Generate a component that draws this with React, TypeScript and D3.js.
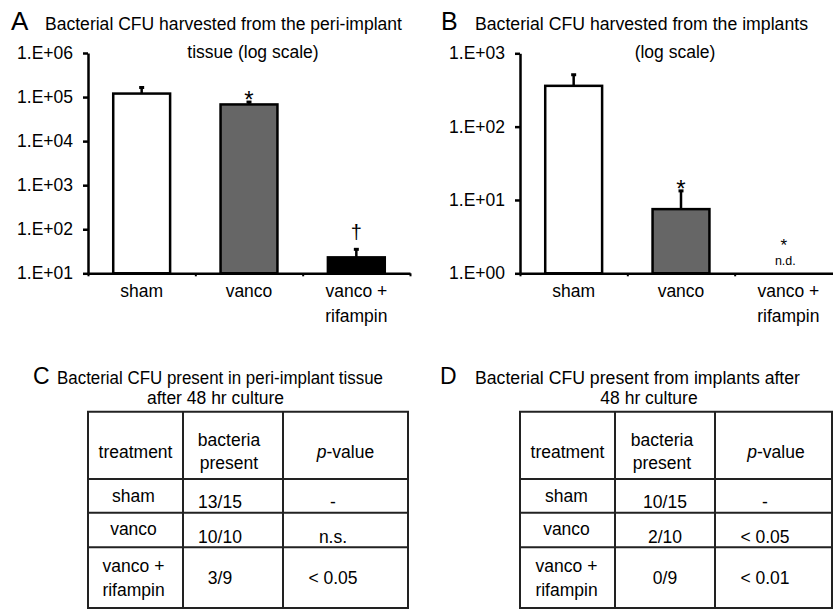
import React, { useEffect, useRef } from "react";
import * as d3 from "d3";

const FONT = "'Liberation Sans', Arial, Helvetica, sans-serif";

const categories = ["sham", "vanco", "vanco + rifampin"];
const categoryLines = [["sham"], ["vanco"], ["vanco +", "rifampin"]];
const barColors = ["#ffffff", "#666666", "#000000"];

// A: CFU from peri-implant tissue
const tissueMeans = [120000, 68000, 23];
const tissueSem = [45000, 9000, 12];
const tissueMarks = ["", "*", "†"];
const tissueTicks = [1e1, 1e2, 1e3, 1e4, 1e5, 1e6];

// B: CFU from implants (null = not detected)
const implantMeans: (number | null)[] = [360, 7.5, null];
const implantSem: (number | null)[] = [150, 5.8, null];
const implantMarks = ["", "*", "*"];
const implantTicks = [1e0, 1e1, 1e2, 1e3];

// C / D tables
const tableHeader = ["treatment", "bacteria\npresent", "p-value"];
const tissueRows = [
  ["sham", "13/15", "-"],
  ["vanco", "10/10", "n.s."],
  ["vanco +\nrifampin", "3/9", "< 0.05"],
];
const implantRows = [
  ["sham", "10/15", "-"],
  ["vanco", "2/10", "< 0.05"],
  ["vanco +\nrifampin", "0/9", "< 0.01"],
];

const fmtTick = (d: number) =>
  "1.E+" + String(Math.round(Math.log10(d))).padStart(2, "0");

function drawChart(svg: any, o: any) {
  const x = d3
    .scaleBand()
    .domain(categories)
    .range([o.left, o.right])
    .paddingInner(0.47)
    .paddingOuter(0.235);
  const y = d3
    .scaleLog()
    .domain([o.ticks[0], o.ticks[o.ticks.length - 1]])
    .range([o.bottom, o.top]);

  const g = svg.append("g");
  const data = categories.map((c, i) => ({
    c,
    i,
    mean: o.means[i],
    sem: o.sem[i],
    mark: o.marks[i],
  }));
  const present = data.filter((d) => d.mean != null);
  const cxOf = (c: string) => x(c)! + x.bandwidth() / 2;

  // error bars (behind bars)
  g.selectAll(".err")
    .data(present)
    .join("line")
    .attr("x1", (d) => cxOf(d.c))
    .attr("x2", (d) => cxOf(d.c))
    .attr("y1", (d) => y(d.mean))
    .attr("y2", (d) => y(d.mean + d.sem))
    .attr("stroke", "#000")
    .attr("stroke-width", 2.5);
  g.selectAll(".cap")
    .data(present)
    .join("line")
    .attr("x1", (d) => cxOf(d.c) - 2.5)
    .attr("x2", (d) => cxOf(d.c) + 2.5)
    .attr("y1", (d) => y(d.mean + d.sem))
    .attr("y2", (d) => y(d.mean + d.sem))
    .attr("stroke", "#000")
    .attr("stroke-width", 3);

  g.selectAll("rect")
    .data(present)
    .join("rect")
    .attr("x", (d) => x(d.c)!)
    .attr("width", x.bandwidth())
    .attr("y", (d) => y(d.mean))
    .attr("height", (d) => o.bottom - y(d.mean))
    .attr("fill", (d) => barColors[d.i])
    .attr("stroke", "#000")
    .attr("stroke-width", 2.5);

  // significance marks
  data.forEach((d) => {
    if (!d.mark) return;
    const cx = cxOf(d.c);
    if (d.mean == null) {
      // not detected
      g.append("text")
        .attr("x", cx - 4.5)
        .attr("y", o.bottom - 32 + 0.57 * 17)
        .attr("text-anchor", "middle")
        .attr("font-family", FONT)
        .attr("font-size", 17)
        .text(d.mark);
      g.append("text")
        .attr("x", cx - 3)
        .attr("y", o.bottom - 8.5)
        .attr("text-anchor", "middle")
        .attr("font-family", FONT)
        .attr("font-size", 12.5)
        .text("n.d.");
      return;
    }
    const top = y(d.mean + d.sem);
    if (d.mark === "†") {
      g.append("text")
        .attr("x", cx)
        .attr("y", top - 16 + 0.27 * 20)
        .attr("text-anchor", "middle")
        .attr("font-family", FONT)
        .attr("font-size", 20)
        .text(d.mark);
    } else {
      g.append("text")
        .attr("x", cx)
        .attr("y", top - 7.5 + 0.57 * 24)
        .attr("text-anchor", "middle")
        .attr("font-family", FONT)
        .attr("font-size", 24)
        .text(d.mark);
    }
  });

  // y axis
  const ya = svg
    .append("g")
    .attr("transform", `translate(${o.left},0)`)
    .call(
      d3
        .axisLeft(y)
        .tickValues(o.ticks)
        .tickFormat(fmtTick as any)
        .tickSize(5)
        .tickPadding(10)
        .tickSizeOuter(0)
    );
  ya.select(".domain").attr("stroke-width", 2.5);
  ya.selectAll(".tick line").attr("stroke-width", 2.5);
  ya.selectAll("text")
    .attr("font-family", FONT)
    .attr("font-size", 17.5)
    .attr("fill", "#000");

  // x axis with boundary ticks
  const bx = d3
    .scaleLinear()
    .domain([0, categories.length])
    .range([o.left, o.left + x.step() * categories.length]);
  const xa = svg
    .append("g")
    .attr("transform", `translate(0,${o.bottom})`)
    .call(
      d3
        .axisBottom(bx)
        .tickValues(d3.range(categories.length + 1))
        .tickFormat(() => "")
        .tickSize(3)
        .tickSizeOuter(0)
    );
  xa.select(".domain").attr("stroke-width", 2.5);
  xa.selectAll(".tick line").attr("stroke-width", 2);

  categoryLines.forEach((lines, i) => {
    const cx = cxOf(categories[i]);
    lines.forEach((t, j) => {
      svg
        .append("text")
        .attr("x", cx)
        .attr("y", o.bottom + 23.7 + j * 24.5)
        .attr("text-anchor", "middle")
        .attr("font-family", FONT)
        .attr("font-size", 17.5)
        .text(t);
    });
  });
}

function drawTitle(svg: any, t: any) {
  svg
    .append("text")
    .attr("x", t.lx)
    .attr("y", t.y)
    .attr("font-family", FONT)
    .attr("font-size", t.lsize)
    .text(t.letter);
  svg
    .append("text")
    .attr("x", t.x1)
    .attr("y", t.y)
    .attr("font-family", FONT)
    .attr("font-size", 17.5)
    .attr("textLength", t.w1)
    .attr("lengthAdjust", "spacingAndGlyphs")
    .text(t.line1);
  svg
    .append("text")
    .attr("x", t.x2)
    .attr("y", t.y + t.gap)
    .attr("text-anchor", "middle")
    .attr("font-family", FONT)
    .attr("font-size", 17.5)
    .text(t.line2);
}

function cellText(sel: any, text: string) {
  if (text === "p-value") {
    sel.append("tspan").attr("font-style", "italic").text("p");
    sel.append("tspan").text("-value");
  } else sel.text(text);
}

function drawTable(svg: any, o: any) {
  const g = svg.append("g");
  const xs = o.xs;
  const ys = o.ys;
  const bottom = ys[ys.length - 1];
  ys.forEach((yy: number) =>
    g.append("line")
      .attr("x1", xs[0] - 1)
      .attr("x2", xs[xs.length - 1] + 1)
      .attr("y1", yy)
      .attr("y2", yy)
      .attr("stroke", "#222")
      .attr("stroke-width", 2)
  );
  xs.forEach((xx: number) =>
    g.append("line")
      .attr("x1", xx)
      .attr("x2", xx)
      .attr("y1", ys[0])
      .attr("y2", bottom)
      .attr("stroke", "#222")
      .attr("stroke-width", 2)
  );
  const rows = [tableHeader, ...o.rows];
  rows.forEach((row: string[], r: number) => {
    const top = ys[r];
    const bot = ys[r + 1];
    const tall = row.some((c) => c.includes("\n"));
    row.forEach((cell, c) => {
      const lines = cell.split("\n");
      const cx = (xs[c] + xs[c + 1]) / 2 + (r === 0 ? o.headShift[c] : o.valShift[c]);
      let base: number;
      if (r === 0) base = (top + bot) / 2 + 6 + 6.3 - ((lines.length - 1) * 23.5) / 2;
      else if (tall) base = (top + bot) / 2 + 6.3 - ((lines.length - 1) * 24) / 2;
      else if (c === 0) base = top + 22.5;
      else base = bot - 4.5;
      lines.forEach((t, j) => {
        const tx = g
          .append("text")
          .attr("x", cx)
          .attr("y", base + j * (r === 0 ? 23.5 : 24))
          .attr("text-anchor", "middle")
          .attr("font-family", FONT)
          .attr("font-size", 17.5);
        cellText(tx, t);
      });
    });
  });
}

export default function App() {
  const ref = useRef<SVGSVGElement>(null);

  useEffect(() => {
    const svg = d3.select(ref.current);
    svg.selectAll("*").remove();

    drawTitle(svg, {
      letter: "A", lx: 11, lsize: 26, y: 30, gap: 27.5,
      x1: 45, w1: 357, line1: "Bacterial CFU harvested from the peri-implant",
      x2: 253, line2: "tissue (log scale)",
    });
    drawTitle(svg, {
      letter: "B", lx: 441, lsize: 25, y: 30, gap: 27.5,
      x1: 475, w1: 333, line1: "Bacterial CFU harvested from the implants",
      x2: 675, line2: "(log scale)",
    });
    drawChart(svg, {
      left: 88, right: 410, top: 53, bottom: 273.3,
      ticks: tissueTicks, means: tissueMeans, sem: tissueSem, marks: tissueMarks,
    });
    drawChart(svg, {
      left: 520, right: 842, top: 53.3, bottom: 273.3,
      ticks: implantTicks, means: implantMeans, sem: implantSem, marks: implantMarks,
    });

    drawTitle(svg, {
      letter: "C", lx: 33, lsize: 23, y: 384, gap: 20,
      x1: 57, w1: 326, line1: "Bacterial CFU present in peri-implant tissue",
      x2: 215.5, line2: "after 48 hr culture",
    });
    drawTitle(svg, {
      letter: "D", lx: 440, lsize: 23, y: 384, gap: 20,
      x1: 475, w1: 325, line1: "Bacterial CFU present from implants after",
      x2: 649, line2: "48 hr culture",
    });

    drawTable(svg, {
      xs: [88, 183, 283, 408],
      ys: [411.7, 479, 512.7, 547.3, 608],
      rows: tissueRows,
      headShift: [0, -4, 0],
      valShift: [-2, -13, -12.5],
    });
    drawTable(svg, {
      xs: [520, 615, 715, 832],
      ys: [411.7, 479, 512.7, 547.3, 608],
      rows: implantRows,
      headShift: [0, -3, 2.5],
      valShift: [-1, 0, -8.5],
    });
  }, []);

  return (
    <svg
      ref={ref}
      width={833}
      height={609}
      style={{ position: "absolute", left: 0, top: 0, background: "#fff" }}
    />
  );
}
